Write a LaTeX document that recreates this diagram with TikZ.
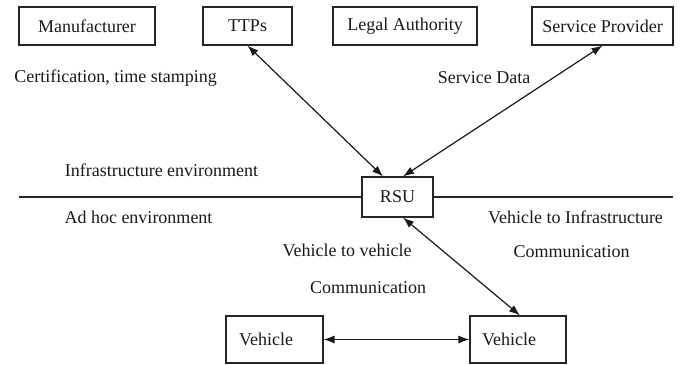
\documentclass[tikz,border=0pt]{standalone}
\usepackage{fontspec}
\setmainfont{Liberation Serif}
\usetikzlibrary{arrows.meta}
\begin{document}
\begin{tikzpicture}[x=1pt,y=-1pt,
  txt/.style={font=\fontsize{18}{22}\selectfont, text=black!90},
  box/.style={txt, draw=black!85, line width=1.1pt, minimum height=38pt, inner sep=0pt},
  lbl/.style={txt, inner sep=0pt},
  vbox/.style={box, minimum height=47pt, text width=71pt, align=left, inner xsep=13pt},
  link/.style={draw=black!90, line width=1.2pt, {Latex[length=11pt,width=8pt]}-{Latex[length=11pt,width=8pt]}},
  envline/.style={draw=black!85, line width=1.1pt}
]
\useasboundingbox (0,0) rectangle (682,364);

% top boxes
\node[box, minimum width=136pt] (man) at (87,26) {Manufacturer};
\node[box, minimum width=89pt]  (ttp) at (247.5,26) {TTPs};
\node[box, minimum width=144pt] (leg) at (405,26) {Legal Authority};
\node[box, minimum width=141pt] (sp)  at (602.5,26) {Service Provider};

% RSU
\node[box, minimum width=71pt, minimum height=40pt] (rsu) at (397.5,197) {RSU};

% vehicles
\node[vbox] (vl) at (274.5,339.5) {Vehicle};
\node[vbox, inner xsep=12pt, text width=72pt] (vr) at (518,339.5) {Vehicle};

% labels
\node[lbl] (cert) at (115.5,78) {Certification, time stamping};
\node[lbl] (sd) at (484,78) {Service Data};
\node[lbl] (infra) at (161.5,170) {Infrastructure environment};
\node[lbl] (adhoc) at (138.5,217) {Ad hoc environment};
\node[lbl] (v2i) at (575.5,217) {Vehicle to Infrastructure};
\node[lbl] (v2icom) at (571.5,252) {Communication};
\node[lbl] (v2v) at (347,250) {Vehicle to vehicle};
\node[lbl] (v2vcom) at (368,288) {Communication};

% environment divider
\coordinate (hl) at (19,197);
\coordinate (hr) at (673,197);
\draw[envline] (hl) -- (rsu.west);
\draw[envline] (rsu.east) -- (hr);

% connectors
\draw[link] (ttp.south) -- ([xshift=-14.5pt]rsu.north);
\draw[link] (sp.south) -- ([xshift=5.5pt]rsu.north);
\draw[link] ([xshift=5.5pt]rsu.south) -- ([xshift=2pt]vr.north);
\draw[link] (vl.east) -- (vr.west);
\end{tikzpicture}
\end{document}
